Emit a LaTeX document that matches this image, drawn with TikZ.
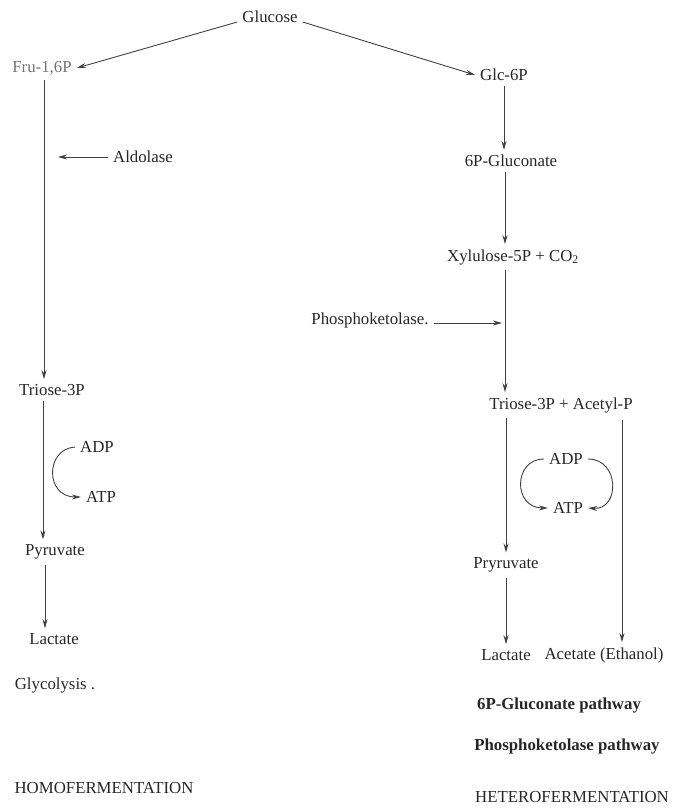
\documentclass[tikz,border=0pt]{standalone}
\usepackage{fontspec}
\setmainfont{Liberation Serif}
\usetikzlibrary{arrows.meta}

\tikzset{
    met/.style={inner sep=5pt, text=black!85, font=\fontsize{16.8}{20}\selectfont},
    pathname/.style={met, font=\fontsize{16.8}{20}\selectfont\bfseries},
    flow/.style={draw=black!75, line width=0.9pt, -{Stealth[length=9pt,width=5pt]}}
}

\begin{document}
\begin{tikzpicture}[x=1pt, y=-1pt]
    \useasboundingbox (0,0) rectangle (673,809);

    % Metabolites
    \node[met] (glucose) at (270,17) {Glucose};
    \node[met, text=black!55] (fru) at (42,68) {Fru-1,6P};
    \node[met] (glc) at (504,75) {Glc-6P};
    \node[met] (gluconate) at (511,161) {6P-Gluconate};
    \node[met] (xylulose) at (513,257) {Xylulose-5P + CO\textsubscript{2}};
    \node[met] (phosk) at (370,320) {Phosphoketolase.};
    \node[met] (trioseR) at (561,405) {Triose-3P + Acetyl-P};
    \node[met] (aldolase) at (143,157) {Aldolase};
    \node[met] (trioseL) at (52,390) {Triose-3P};
    \node[met] (pyruvateL) at (55,552) {Pyruvate};
    \node[met] (lactateL) at (54,639) {Lactate};
    \node[met] (adpL) at (97,447) {ADP};
    \node[met] (atpL) at (101,497) {ATP};
    \node[met] (adpR) at (566,459) {ADP};
    \node[met] (atpR) at (568,508) {ATP};
    \node[met] (pyruvateR) at (506,565) {Pryruvate};
    \node[met] (lactateR) at (506,655) {Lactate};
    \node[met] (acetate) at (604,655) {Acetate (Ethanol)};

    % Pathway names
    \node[met] (glycolysis) at (55,685) {Glycolysis .};
    \node[met] (homo) at (104,788) {HOMOFERMENTATION};
    \node[pathname] (gluconpath) at (559,705) {6P-Gluconate pathway};
    \node[pathname] (phoskpath) at (567,746) {Phosphoketolase pathway};
    \node[met] (hetero) at (572,797) {HETEROFERMENTATION};

    \coordinate (aldoend) at (58,157);
    \coordinate (phoskend) at (502,323);
    \coordinate (acetylstart) at (622,420);

    % Glycolysis side
    \draw[flow] ([yshift=-5pt]glucose.west) -- (fru.east);
    \draw[flow] (fru.south -| 44,0) -- (trioseL.north -| 44,0);
    \draw[flow] (aldolase.west) -- (aldoend);
    \draw[flow] (trioseL.south -| 43,0) -- (pyruvateL.north -| 43,0);
    \draw[flow] (pyruvateL.south -| 45,0) -- (lactateL.north -| 45,0);
    \draw[flow] (adpL.west) .. controls (45,449) and (45,497) .. (atpL.west);

    % Heterofermentation side
    \draw[flow] ([yshift=-5pt]glucose.east) -- (glc.west);
    \draw[flow] (glc.south -| 504,0) -- (gluconate.north -| 504,0);
    \draw[flow] (gluconate.south -| 505,0) -- (xylulose.north -| 505,0);
    \draw[flow] (xylulose.south -| 505,0) -- (trioseR.north -| 505,0);
    \draw[flow] (phosk.east |- phoskend) -- (phoskend);
    \draw[flow] (trioseR.south -| 506,0) -- (pyruvateR.north -| 506,0);
    \draw[flow] (pyruvateR.south -| 506,0) -- (lactateR.north -| 506,0);
    \draw[flow] (acetylstart) -- (acetate.north -| 622,0);
    \draw[flow] (adpR.west) .. controls (513,459) and (513,508) .. (atpR.west);
    \draw[flow] (adpR.east) .. controls (620,459) and (620,510) .. (atpR.east);
\end{tikzpicture}
\end{document}
